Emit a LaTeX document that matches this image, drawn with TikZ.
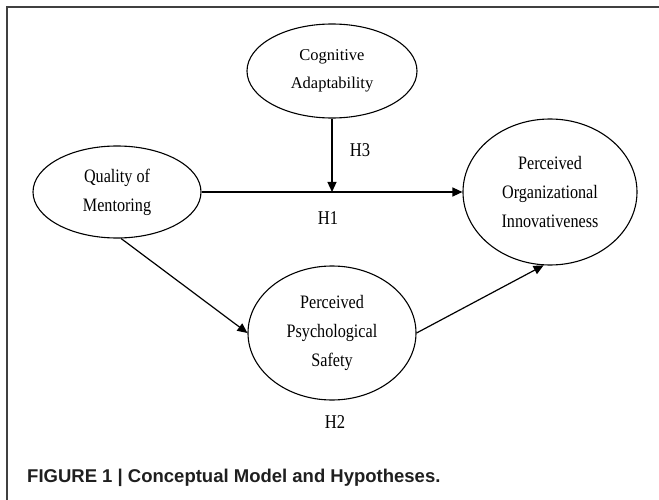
\documentclass[tikz,border=0pt]{standalone}
\usepackage{fontspec}
\setmainfont{Liberation Serif}
\newfontfamily\tallserif[FakeStretch=0.85]{Liberation Serif}
\newfontfamily\capfont{Liberation Sans}
\usetikzlibrary{shapes.geometric,arrows.meta}
\begin{document}
\begin{tikzpicture}[x=1pt,y=-1pt,
  frameline/.style={line width=1.3pt,draw=black!75},
  construct/.style={ellipse,draw,line width=1.1pt,inner sep=0pt,align=center,
    font=\tallserif\fontsize{19}{29}\selectfont},
  link/.style={line width=1.2pt,-{Triangle[length=10pt,width=9pt]}},
  hyp/.style={font=\tallserif\fontsize{19.5}{22}\selectfont,inner sep=0pt},
  caption/.style={anchor=west,inner sep=0pt,text=black!88,
    font=\capfont\bfseries\fontsize{18.5}{22}\selectfont}]
\useasboundingbox (0,0) rectangle (659,500);
\draw[frameline] (7,500) -- (7,7) -- (659,7);

\node[construct,minimum width=170pt,minimum height=94pt,
  font=\fontsize{16.5}{28}\selectfont] (ca) at (332,71) {Cognitive\\Adaptability};
\node[construct,minimum width=168pt,minimum height=92pt] (qm) at (117,192) {Quality of\\Mentoring};
\node[construct,minimum width=174pt,minimum height=146pt] (org) at (550,192) {Perceived\\Organizational\\Innovativeness};
\node[construct,minimum width=168pt,minimum height=134pt] (ps) at (332,333) {Perceived\\Psychological\\Safety};

\coordinate (mod) at (ca.south |- qm.east);

\draw[link] (qm.east) -- (org.west);
\draw[link] (ca.south) -- (mod);
\draw[link] (qm.-85) -- (ps.west);
\draw[link] (ps.east) -- (org.-95);

\node[hyp] (h3) at (360,150) {H3};
\node[hyp] (h1) at (328,218) {H1};
\node[hyp] (h2) at (335,422) {H2};

\node[caption] (cap) at (27,478) {FIGURE 1 | Conceptual Model and Hypotheses.};
\end{tikzpicture}
\end{document}
